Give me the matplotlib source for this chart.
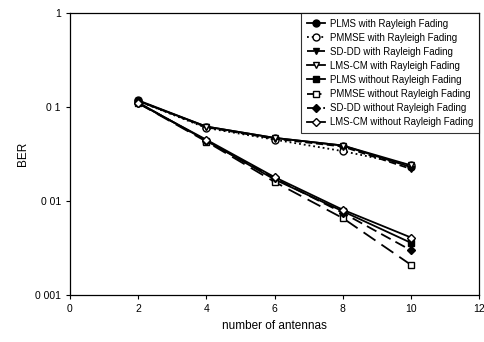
import numpy as np
import matplotlib
matplotlib.use("Agg")
import matplotlib.pyplot as plt
from matplotlib.ticker import FixedLocator, NullLocator

plt.rcParams['font.family'] = ['Liberation Sans', 'DejaVu Sans']

antennas = [2, 4, 6, 8, 10]

# BER values
plms_ray = [0.118, 0.062, 0.047, 0.039, 0.023]
pmmse_ray = [0.116, 0.060, 0.045, 0.034, 0.024]
sddd_ray = [0.117, 0.061, 0.046, 0.038, 0.022]
lmscm_ray = [0.116, 0.062, 0.047, 0.039, 0.024]
plms_no = [0.112, 0.044, 0.017, 0.0078, 0.0036]
pmmse_no = [0.110, 0.043, 0.016, 0.0066, 0.0021]
sddd_no = [0.111, 0.044, 0.0175, 0.0075, 0.0030]
lmscm_no = [0.110, 0.045, 0.018, 0.0081, 0.0041]

labels = ["PLMS with Rayleigh Fading", "PMMSE with Rayleigh Fading",
          "SD-DD with Rayleigh Fading", "LMS-CM with Rayleigh Fading",
          "PLMS without Rayleigh Fading", "PMMSE without Rayleigh Fading",
          "SD-DD without Rayleigh Fading", "LMS-CM without Rayleigh Fading"]

series = [plms_ray, pmmse_ray, sddd_ray, lmscm_ray, plms_no, pmmse_no, sddd_no, lmscm_no]
markers = ['o', 'o', 'v', 'v', 's', 's', 'D', 'D']
filled = [True, False, True, False, True, False, True, False]
styles = ['-', ':', (0, (4, 2)), '-', '-', (0, (8, 4)), (0, (6, 3)), '-']

fig = plt.figure(figsize=(4.85, 3.42), dpi=100)
ax = fig.add_axes([0.144, 0.137, 0.844, 0.825])

for vals, lab, m, f, ls in zip(series, labels, markers, filled, styles):
    ms = 4.5 if m == 'D' else 5
    ax.plot(antennas, vals, color='black', linestyle=ls, linewidth=1.3,
            marker=m, markersize=ms, markerfacecolor='black' if f else 'white',
            markeredgecolor='black', markeredgewidth=1.0, label=lab)

ax.set_yscale('log')
ax.set_xlim(0, 12)
ax.set_ylim(0.001, 1)
ax.set_xticks(range(0, 13, 2))
ax.yaxis.set_major_locator(FixedLocator([0.001, 0.01, 0.1, 1]))
ax.yaxis.set_minor_locator(NullLocator())
ax.set_yticklabels(["0 001", "0 01", "0 1", "1"])
ax.tick_params(labelsize=7.5, direction='out', length=3, width=0.8)
for s in ax.spines.values():
    s.set_linewidth(0.9)
ax.set_xlabel("number of antennas", fontsize=8.5)
ax.set_ylabel("BER", fontsize=8.5)

leg = ax.legend(loc='upper right', bbox_to_anchor=(1.0, 1.0), fontsize=6.9,
                frameon=True, fancybox=False, edgecolor='black', handlelength=1.9,
                labelspacing=0.42, borderpad=0.6, handletextpad=0.5,
                borderaxespad=0.0)
leg.get_frame().set_linewidth(0.8)

fig.savefig("out.png", dpi=100)
